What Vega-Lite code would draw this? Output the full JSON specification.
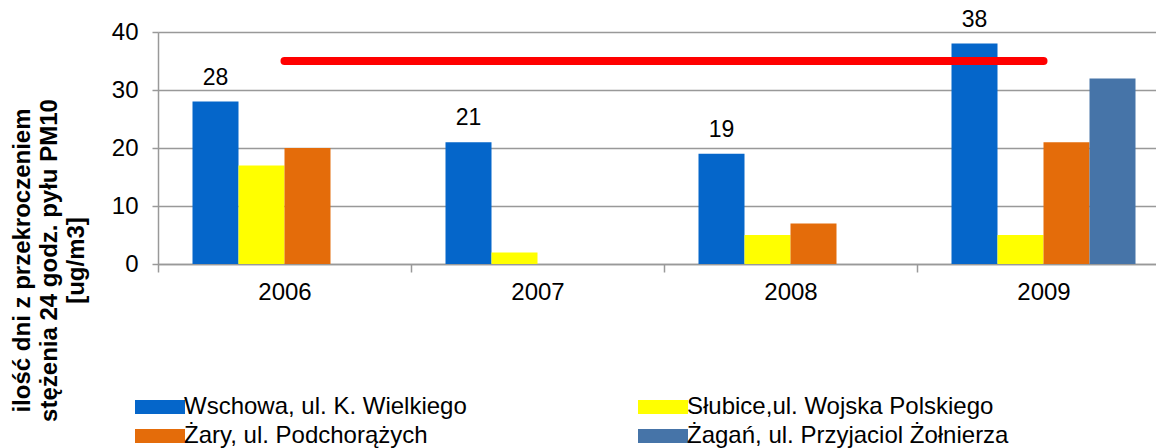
{
  "$schema": "https://vega.github.io/schema/vega-lite/v6.json",
  "width": 1012,
  "height": 232,
  "autosize": {"type": "none"},
  "padding": {"left": 158, "top": 32, "right": 0, "bottom": 184},
  "background": "white",
  "config": {"view": {"stroke": null}, "font": "Liberation Sans"},
  "datasets": {
    "bars": [
      {"year": "2006", "station": "Wschowa, ul. K. Wielkiego", "days": 28},
      {"year": "2006", "station": "Słubice,ul. Wojska Polskiego", "days": 17},
      {"year": "2006", "station": "Żary, ul. Podchorążych", "days": 20},
      {"year": "2007", "station": "Wschowa, ul. K. Wielkiego", "days": 21},
      {"year": "2007", "station": "Słubice,ul. Wojska Polskiego", "days": 2},
      {"year": "2008", "station": "Wschowa, ul. K. Wielkiego", "days": 19},
      {"year": "2008", "station": "Słubice,ul. Wojska Polskiego", "days": 5},
      {"year": "2008", "station": "Żary, ul. Podchorążych", "days": 7},
      {"year": "2009", "station": "Wschowa, ul. K. Wielkiego", "days": 38},
      {"year": "2009", "station": "Słubice,ul. Wojska Polskiego", "days": 5},
      {"year": "2009", "station": "Żary, ul. Podchorążych", "days": 21},
      {"year": "2009", "station": "Żagań, ul. Przyjaciol Żołnierza", "days": 32}
    ],
    "limit": [{"from": "2006", "to": "2009", "limit": 35}]
  },
  "layer": [
    {
      "data": {"name": "bars"},
      "mark": {"type": "bar"},
      "encoding": {
        "x": {
          "field": "year", "type": "nominal",
          "scale": {"domain": ["2006", "2007", "2008", "2009"], "paddingInner": 0, "paddingOuter": 0},
          "axis": {"title": null, "labelAngle": 0, "labelFontSize": 24, "labelColor": "black", "tickBand": "extent", "tickSize": 8, "tickColor": "#999", "tickWidth": 1.5, "domainColor": "#999", "domainWidth": 1.5, "labelPadding": 8, "grid": false}
        },
        "xOffset": {
          "field": "station", "type": "nominal",
          "scale": {"domain": ["Wschowa, ul. K. Wielkiego", "Słubice,ul. Wojska Polskiego", "Żary, ul. Podchorążych", "Żagań, ul. Przyjaciol Żołnierza"], "paddingInner": 0, "paddingOuter": 0.75}
        },
        "y": {
          "field": "days", "type": "quantitative",
          "scale": {"domain": [0, 40]},
          "axis": {
            "values": [0, 10, 20, 30, 40], "tickSize": 6, "labelPadding": 14, "labelFontSize": 24, "labelColor": "black",
            "gridColor": "#999", "gridWidth": 1.5, "tickColor": "#999", "tickWidth": 1.5, "domainColor": "#999", "domainWidth": 1.5,
            "title": ["ilość dni z przekroczeniem", "stężenia 24 godz. pyłu PM10", "[ug/m3]"],
            "titleFontSize": 24, "titleFontWeight": "bold", "titleColor": "black",
            "titleAngle": 270, "titleBaseline": "top", "titleAlign": "center", "titleLineHeight": 27,
            "titleX": -148, "titleY": 228
          }
        },
        "color": {
          "field": "station", "type": "nominal",
          "scale": {"domain": ["Wschowa, ul. K. Wielkiego", "Słubice,ul. Wojska Polskiego", "Żary, ul. Podchorążych", "Żagań, ul. Przyjaciol Żołnierza"], "range": ["#0566CA", "#FFFF00", "#E46C0A", "#4674A8"]},
          "legend": {
            "orient": "none", "legendX": -10, "legendY": 363, "direction": "horizontal", "columns": 2, "title": null,
            "symbolType": "M-2.5,-0.7H2.5V0.7H-2.5Z", "symbolSize": 400, "symbolStrokeWidth": 0, "symbolOpacity": 1,
            "labelFontSize": 24, "labelFont": "Liberation Sans", "labelColor": "black", "labelOffset": 12,
            "columnPadding": 171, "rowPadding": 5, "labelLimit": 500
          }
        }
      }
    },
    {
      "data": {"name": "bars"},
      "transform": [{"filter": "datum.station === 'Wschowa, ul. K. Wielkiego'"}],
      "mark": {"type": "text", "dy": -17, "baseline": "alphabetic", "fontSize": 23, "color": "black"},
      "encoding": {
        "x": {"field": "year", "type": "nominal"},
        "xOffset": {"field": "station", "type": "nominal"},
        "y": {"field": "days", "type": "quantitative"},
        "text": {"field": "days", "type": "quantitative"}
      }
    },
    {
      "data": {"name": "limit"},
      "mark": {"type": "rule", "color": "#FF0000", "strokeWidth": 8, "strokeCap": "round"},
      "encoding": {
        "x": {"field": "from", "type": "nominal"},
        "x2": {"field": "to"},
        "y": {"field": "limit", "type": "quantitative"}
      }
    }
  ]
}
